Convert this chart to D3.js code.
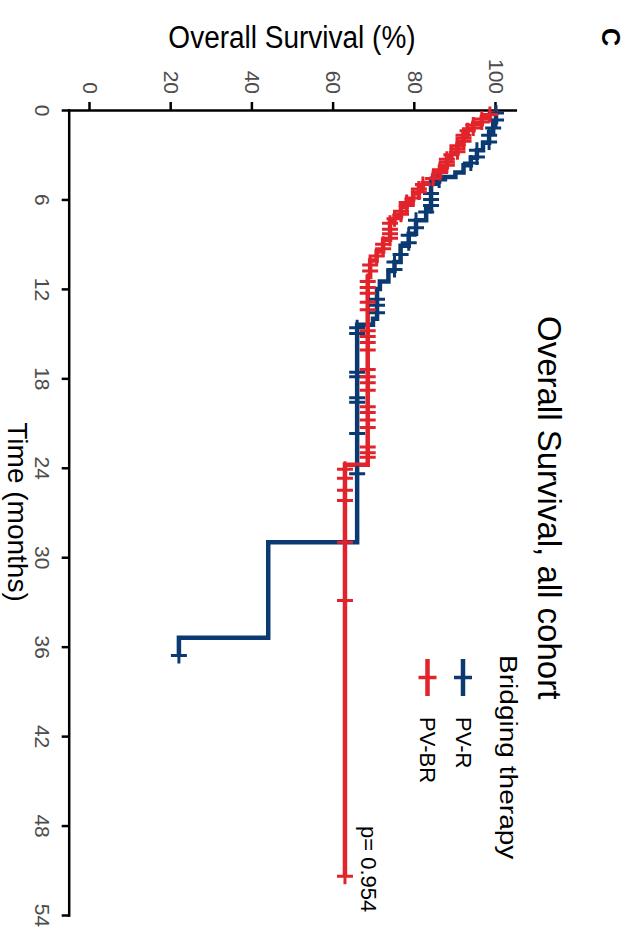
<!DOCTYPE html>
<html><head><meta charset="utf-8">
<script src="https://cdn.jsdelivr.net/npm/d3@7"></script>
<style>
body{margin:0;background:#fff}
svg{display:block;font-family:"Liberation Sans",Arial,Helvetica,sans-serif}
</style>
</head><body><svg id="c" width="642" height="949"></svg>
<script>
// ---- data (time in months, survival in %) ----
const timeTicks = [0, 6, 12, 18, 24, 30, 36, 42, 48, 54];
const survTicks = [0, 20, 40, 60, 80, 100];
const seriesNames = ["PV-R", "PV-BR"];
const seriesColors = ["#0b3a72", "#e3232b"];

// PV-R step function: [time, survival after time]
const pvrSteps = [[0,100],[0.8,99.3],[1.5,98.3],[2.2,96.8],[2.7,95.3],[3.2,93.8],[3.7,92],[4.2,90],[4.5,86],[4.8,84],
  [6.6,82.8],[7.4,80.3],[8.3,78.5],[9.1,76.5],[10.2,75],[10.8,73.5],[11.5,71.4],[12.0,70.7],[14.0,69.7],[14.4,65.8],[29.0,43.9],[35.4,21.9]];
const pvrEnd = 36.6;
const pvrCensor = [0.2,0.67,1.2,1.7,2.15,2.7,3.15,3.55,4.7,5.0,5.6,6.0,6.4,6.85,7.4,7.9,8.4,8.9,9.7,10.2,10.7,
  12.7,13.1,13.6,14.6,15.0,17.6,17.9,19.3,19.6,21.7,24.4,36.6];

// PV-BR step function
const pvbrSteps = [[0,100],[0.2,98.5],[0.5,96.5],[0.9,94.4],[1.3,93],[1.6,92],[2.3,90.5],[2.9,89],[3.2,87.9],[3.8,86.2],
  [4.4,84.5],[4.9,82],[5.2,81],[5.6,79.6],[6.0,78],[6.5,76.6],[7.1,75],[7.5,73.9],[8.7,72.2],[9.5,70.6],[10.1,69],[11.2,68.4],[23.8,62.8]];
const pvbrEnd = 51.4;
const pvbrCensor = [0.3,0.6,0.8,1.0,1.2,1.4,1.7,1.9,2.1,2.4,2.6,2.8,3.0,3.3,3.5,3.7,4.0,4.2,4.6,5.0,5.3,5.5,5.9,6.2,6.4,
  6.8,7.0,7.3,7.6,8.0,8.3,8.6,9.0,9.3,9.8,10.4,10.8,11.5,11.9,12.3,12.9,13.4,14.8,15.2,15.6,16.1,17.4,17.9,18.3,18.8,
  19.9,20.3,20.8,21.3,22.6,23.0,23.3,24.1,24.7,25.5,26.2,29.0,32.9,51.4];

// ---- drawing ----
const svg = d3.select('#c');
svg.append('rect').attr('width',642).attr('height',949).attr('fill','#fff');
// whole plot drawn landscape, rotated 90deg clockwise
const g = svg.append('g').attr('transform','translate(642,0) rotate(90)');

const x = d3.scaleLinear().domain([0,54]).range([110,915]);
const y = d3.scaleLinear().domain([-5,105]).range([572.3,125.7]);

function survAt(steps,t){ let v=steps[0][1]; for(const d of steps){ if(d[0]<=t) v=d[1]; } return v; }
function pts(steps,end){ const p=steps.map(d=>({t:d[0],s:d[1]})); p.push({t:end,s:steps[steps.length-1][1]}); return p; }

const line = d3.line().x(d=>x(d.t)).y(d=>y(d.s)).curve(d3.curveStepAfter);

// axes
const xa = g.append('g').attr('transform','translate(0,572.3)')
  .call(d3.axisBottom(x).tickValues(timeTicks).tickSize(8).tickSizeOuter(0).tickPadding(12));
const ya = g.append('g').attr('transform','translate(110,0)')
  .call(d3.axisLeft(y).tickValues(survTicks).tickSize(8).tickSizeOuter(0).tickPadding(8));
[xa,ya].forEach(a=>{
  a.select('.domain').attr('stroke','#000').attr('stroke-width',2.5).attr('stroke-linecap','square');
  a.selectAll('.tick line').attr('stroke','#000').attr('stroke-width',2.5);
  a.selectAll('.tick text').attr('fill','#4d4d4d').attr('font-size',21).attr('font-family','Liberation Sans, Arial, sans-serif');
});

const all = [
  {steps:pvrSteps,end:pvrEnd,cens:pvrCensor,color:seriesColors[0]},
  {steps:pvbrSteps,end:pvbrEnd,cens:pvbrCensor,color:seriesColors[1]}
];
all.forEach(s=>{
  g.append('path').datum(pts(s.steps,s.end)).attr('d',line)
    .attr('fill','none').attr('stroke',s.color).attr('stroke-width',4.5).attr('stroke-linejoin','miter');
});
const cs = 8;
all.forEach(s=>{
  g.append('g').selectAll('path').data(s.cens).join('path')
    .attr('d',t=>{const cx=x(t), cy=y(survAt(s.steps,t)); return `M${cx-cs},${cy}H${cx+cs}M${cx},${cy-cs}V${cy+cs}`;})
    .attr('stroke',s.color).attr('stroke-width',3).attr('fill','none');
});

// titles
g.append('text').attr('x',316).attr('y',104).attr('font-size',33).attr('fill','#000')
  .text('Overall Survival, all cohort');
g.append('text').attr('x',512).attr('y',634).attr('text-anchor','middle').attr('font-size',28).attr('fill','#000')
  .text('Time (months)');
g.append('text').attr('transform','translate(48,350) rotate(-90) scale(1,1.1)').attr('text-anchor','middle')
  .attr('font-size',28).attr('fill','#000').text('Overall Survival (%)');
g.append('text').attr('x',28).attr('y',40).attr('font-size',25).attr('font-weight','bold').attr('fill','#000').text('C');
g.append('text').attr('x',826).attr('y',281).attr('font-size',22).attr('fill','#000').text('p= 0.954');

// legend
g.append('text').attr('transform','translate(655,142) scale(1.17,1)').attr('font-size',24).attr('fill','#000').text('Bridging therapy');
const ly = [179, 214.5];
seriesNames.forEach((n,i)=>{
  const lg = g.append('g');
  lg.append('line').attr('x1',659).attr('x2',696).attr('y1',ly[i]).attr('y2',ly[i])
    .attr('stroke',seriesColors[i]).attr('stroke-width',4.5);
  lg.append('line').attr('x1',677.5).attr('x2',677.5).attr('y1',ly[i]-9).attr('y2',ly[i]+9)
    .attr('stroke',seriesColors[i]).attr('stroke-width',3.5);
  lg.append('text').attr('x',717).attr('y',ly[i]+7.5).attr('font-size',22).attr('fill','#000').text(n);
});
</script></body></html>
